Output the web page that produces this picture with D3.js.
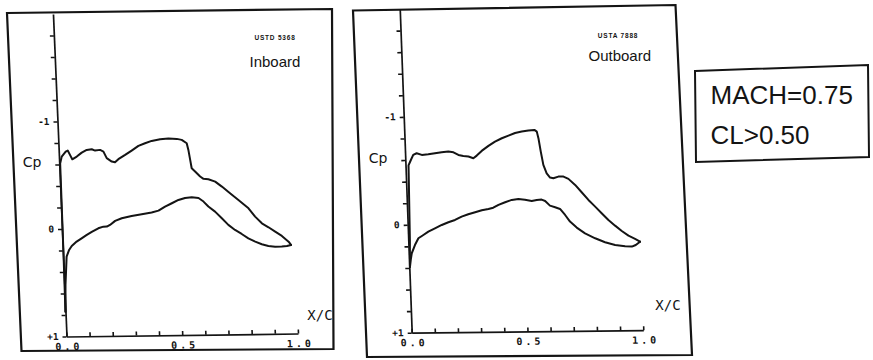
<!DOCTYPE html>
<html>
<head>
<meta charset="utf-8">
<script src="https://cdn.jsdelivr.net/npm/d3@7"></script>
<style>
  html, body { margin: 0; padding: 0; background: #ffffff; }
  svg { display: block; }
</style>
</head>
<body>
<svg id="chart" width="873" height="360"></svg>
<script>
// Chordwise pressure distributions [x/c, Cp] — upper surface (suction) and lower surface
const inboardUpper = [
  [0.000, 0.77], [0.002, 0.25], [0.004, -0.610], [0.012, -0.673], [0.030, -0.719], [0.039, -0.729],
  [0.048, -0.688], [0.057, -0.647], [0.077, -0.672], [0.099, -0.708], [0.121, -0.732], [0.143, -0.738],
  [0.157, -0.725], [0.179, -0.731], [0.193, -0.715], [0.206, -0.653], [0.227, -0.621], [0.241, -0.614],
  [0.256, -0.642], [0.286, -0.681], [0.315, -0.721], [0.345, -0.763], [0.374, -0.787], [0.403, -0.808],
  [0.440, -0.823], [0.476, -0.828], [0.512, -0.824], [0.533, -0.814], [0.554, -0.782], [0.560, -0.720],
  [0.566, -0.627], [0.571, -0.549], [0.585, -0.518], [0.606, -0.471], [0.620, -0.449], [0.641, -0.445],
  [0.670, -0.422], [0.698, -0.375], [0.732, -0.312], [0.767, -0.249], [0.809, -0.170], [0.836, -0.092],
  [0.864, -0.029], [0.892, 0.009], [0.920, 0.050], [0.948, 0.091], [0.976, 0.145], [0.986, 0.176]
];
const inboardLower = [
  [0.000, 0.77], [0.005, 0.52], [0.015, 0.257], [0.027, 0.196], [0.039, 0.159], [0.061, 0.119],
  [0.083, 0.089], [0.106, 0.058], [0.128, 0.031], [0.157, -0.002], [0.179, -0.017], [0.194, -0.017],
  [0.208, -0.032], [0.231, -0.069], [0.260, -0.093], [0.303, -0.113], [0.347, -0.127], [0.390, -0.142],
  [0.420, -0.159], [0.449, -0.196], [0.479, -0.226], [0.508, -0.256], [0.537, -0.274], [0.566, -0.279],
  [0.595, -0.272], [0.616, -0.238], [0.636, -0.191], [0.664, -0.143], [0.692, -0.080], [0.719, -0.018],
  [0.747, 0.030], [0.775, 0.068], [0.803, 0.109], [0.832, 0.141], [0.860, 0.166], [0.888, 0.183],
  [0.917, 0.190], [0.946, 0.190], [0.968, 0.185], [0.986, 0.176]
];
const outboardUpper = [
  [0.003, 0.39], [0.007, 0.14], [0.013, -0.550], [0.024, -0.600], [0.035, -0.647], [0.050, -0.662],
  [0.072, -0.646], [0.100, -0.651], [0.129, -0.660], [0.158, -0.669], [0.187, -0.674], [0.209, -0.667],
  [0.230, -0.642], [0.251, -0.632], [0.273, -0.626], [0.294, -0.610], [0.309, -0.634], [0.331, -0.677],
  [0.361, -0.723], [0.390, -0.762], [0.420, -0.792], [0.449, -0.816], [0.478, -0.840], [0.507, -0.852],
  [0.536, -0.861], [0.562, -0.866], [0.572, -0.850], [0.578, -0.789], [0.586, -0.665], [0.595, -0.541],
  [0.608, -0.463], [0.622, -0.423], [0.636, -0.416], [0.658, -0.431], [0.680, -0.431], [0.701, -0.409],
  [0.729, -0.352], [0.756, -0.284], [0.784, -0.212], [0.812, -0.149], [0.839, -0.087], [0.867, -0.024],
  [0.895, 0.029], [0.923, 0.079], [0.951, 0.123], [0.979, 0.154], [1.000, 0.180]
];
const outboardLower = [
  [0.003, 0.39], [0.008, 0.32], [0.013, 0.264], [0.028, 0.188], [0.044, 0.126], [0.066, 0.096],
  [0.088, 0.065], [0.117, 0.035], [0.147, 0.005], [0.176, -0.019], [0.205, -0.040], [0.234, -0.070],
  [0.263, -0.091], [0.293, -0.109], [0.322, -0.127], [0.351, -0.139], [0.372, -0.150], [0.395, -0.175],
  [0.424, -0.199], [0.453, -0.220], [0.482, -0.228], [0.510, -0.221], [0.539, -0.208], [0.561, -0.217],
  [0.582, -0.220], [0.597, -0.207], [0.617, -0.163], [0.639, -0.147], [0.660, -0.131], [0.681, -0.075],
  [0.701, -0.013], [0.729, 0.043], [0.764, 0.097], [0.807, 0.144], [0.849, 0.182], [0.892, 0.208],
  [0.935, 0.221], [0.964, 0.225], [0.981, 0.210], [1.000, 0.180]
];

// Axis ticks and labels
const cpDomain = [-2, 1];
const cpTicks = [-1.8, -1.6, -1.4, -1.2, -1.0, -0.8, -0.6, -0.4, -0.2, 0, 0.2, 0.4, 0.6, 0.8, 1.0];
const cpTickLabels = [["-1", -1], ["0", 0], ["+1", 1]];
const xcTicks = [0, 0.1, 0.2, 0.3, 0.4, 0.5, 0.6, 0.7, 0.8, 0.9, 1.0];
const xcTickLabels = [["0.0", 0], ["0.5", 0.5], ["1.0", 1]];

// Annotation text
const panelTitles = ["Inboard", "Outboard"];
const runIds = ["USTD 5368", "USTA 7888"];
const conditionLines = ["MACH=0.75", "CL>0.50"];

const INK = "#141414";
const svg = d3.select("#chart");

// Layout of the two plot panels (pixel placement of each plotting frame)
const panels = [
  {
    upper: inboardUpper, lower: inboardLower, title: panelTitles[0], run: runIds[0],
    xRange: [66.5, 298], cpZero: 229, cpUnit: 107.5, shearX: 0.042, shearY: -0.013,
    frame: [[7, 13], [332, 9], [333.5, 349], [21.5, 351]],
    cpLabel: [32, 167], xcLabel: [320, 320], titlePos: [249.5, 66.5], runPos: [275, 40]
  },
  {
    upper: outboardUpper, lower: outboardLower, title: panelTitles[1], run: runIds[1],
    xRange: [411.7, 643.3], cpZero: 224.8, cpUnit: 107.9, shearX: 0.037, shearY: -0.011,
    frame: [[353, 10.5], [675.5, 5], [692, 355], [367, 357]],
    cpLabel: [378, 163], xcLabel: [668, 310], titlePos: [588.5, 60.5], runPos: [618, 38]
  }
];

panels.forEach(p => {
  const x = d3.scaleLinear().domain([0, 1]).range(p.xRange);
  const y = d3.scaleLinear().domain(cpDomain)
    .range([p.cpZero + cpDomain[0] * p.cpUnit, p.cpZero + cpDomain[1] * p.cpUnit]);
  const yBase = y(1);
  const x0 = p.xRange[0];

  // Outer frame
  svg.append("polygon")
    .attr("points", p.frame.map(d => d.join(",")).join(" "))
    .attr("fill", "none").attr("stroke", INK).attr("stroke-width", 2.2)
    .attr("stroke-linejoin", "miter");

  // Plot body, slightly sheared as on the plotted sheet
  const g = svg.append("g")
    .attr("transform",
      `matrix(1,${p.shearY},${p.shearX},1,${-p.shearX * yBase},${-p.shearY * x0})`);

  const yAxis = d3.axisLeft(y)
    .tickValues(cpTicks)
    .tickSizeInner(4).tickSizeOuter(0).tickPadding(5)
    .tickFormat(() => "");
  const ya = g.append("g").attr("transform", `translate(${x0},0)`).call(yAxis);

  const xAxis = d3.axisBottom(x)
    .tickValues(xcTicks)
    .tickSizeInner(-4).tickSizeOuter(0).tickPadding(7)
    .tickFormat(() => "");
  const xa = g.append("g").attr("transform", `translate(0,${yBase})`).call(xAxis);

  [ya, xa].forEach(a => {
    a.selectAll("path.domain").attr("stroke", INK).attr("stroke-width", 1.7);
    a.selectAll(".tick line").attr("stroke", INK).attr("stroke-width", 1.6);
  });

  // Tick labels
  g.append("g").selectAll("text").data(cpTickLabels).join("text")
    .attr("x", x0 - 8).attr("y", d => y(d[1]))
    .attr("dy", "0.35em").attr("text-anchor", "end")
    .attr("font-family", "DejaVu Sans Mono").attr("font-size", 9.5).attr("font-weight", "bold")
    .attr("fill", INK).text(d => d[0]);

  g.append("g").selectAll("text").data(xcTickLabels).join("text")
    .attr("x", d => x(d[1]) + 2).attr("y", yBase + 10)
    .attr("dy", "0.35em").attr("text-anchor", "middle")
    .attr("font-family", "DejaVu Sans Mono").attr("font-size", 10).attr("font-weight", "bold")
    .attr("letter-spacing", 3)
    .attr("fill", INK).text(d => d[0]);

  // Cp curves
  const line = d3.line().x(d => x(d[0])).y(d => y(d[1]));
  [p.upper, p.lower].forEach(s => {
    g.append("path").datum(s)
      .attr("d", line)
      .attr("fill", "none").attr("stroke", INK).attr("stroke-width", 2)
      .attr("stroke-linejoin", "round").attr("stroke-linecap", "round");
  });

  // Axis titles and panel annotation
  svg.append("text").attr("x", p.cpLabel[0]).attr("y", p.cpLabel[1])
    .attr("text-anchor", "middle").attr("font-family", "DejaVu Sans").attr("font-size", 14)
    .attr("fill", INK).text("Cp");
  svg.append("text").attr("x", p.xcLabel[0]).attr("y", p.xcLabel[1])
    .attr("text-anchor", "middle").attr("font-family", "DejaVu Sans Mono").attr("font-size", 14)
    .attr("fill", INK).text("X/C");
  svg.append("text").attr("x", p.runPos[0]).attr("y", p.runPos[1])
    .attr("text-anchor", "middle").attr("font-family", "Liberation Sans").attr("font-size", 6.5)
    .attr("font-weight", "bold").attr("letter-spacing", 0.8)
    .attr("fill", INK).text(p.run);
  svg.append("text").attr("x", p.titlePos[0]).attr("y", p.titlePos[1])
    .attr("font-family", "Liberation Sans").attr("font-size", 15)
    .attr("fill", INK).text(p.title);
});

// Flight condition box
svg.append("polygon")
  .attr("points", [[695, 71], [868, 65], [869, 157], [696, 162]].map(d => d.join(",")).join(" "))
  .attr("fill", "none").attr("stroke", INK).attr("stroke-width", 2);
svg.append("g").selectAll("text").data(conditionLines).join("text")
  .attr("x", 710.5).attr("y", (d, i) => 104 + i * 40)
  .attr("font-family", "Liberation Sans").attr("font-size", 26)
  .attr("fill", INK).text(d => d);
</script>
</body>
</html>
